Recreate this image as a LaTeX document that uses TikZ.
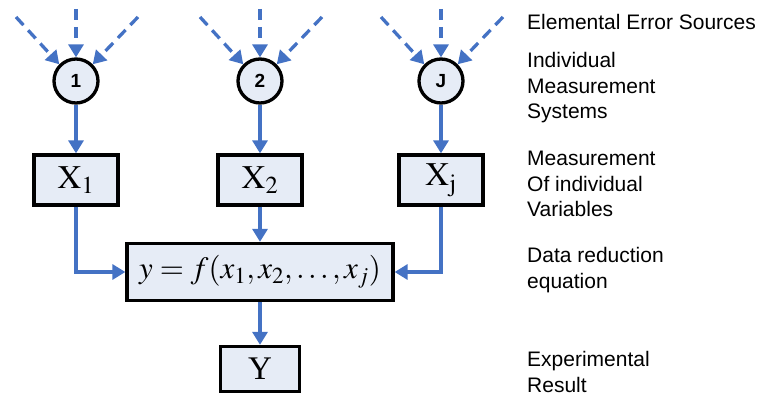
\documentclass[tikz,border=0pt]{standalone}
\usepackage{mathptmx}
\usepackage{fontspec}
\setmainfont{Liberation Serif}
\setsansfont{Liberation Sans}
\usetikzlibrary{arrows.meta}
\definecolor{ablue}{RGB}{68,114,196}
\definecolor{lfill}{RGB}{230,236,246}
\tikzset{
  x=1pt,y=-1pt,
  src/.style={circle,draw=black,line width=3.3pt,fill=lfill,minimum size=44pt,inner sep=0pt,font=\sffamily\bfseries\fontsize{19}{22}\selectfont},
  vbox/.style={draw=black,line width=3.3pt,fill=lfill,inner sep=0pt,font=\fontsize{33}{36}\selectfont},
  arr/.style={draw=ablue,line width=3.3pt,-{Triangle[length=13pt,width=15pt]}},
  darr/.style={arr,dash pattern=on 11pt off 7pt},
  lbl/.style={anchor=west,align=left,inner sep=0pt,font=\sffamily\fontsize{21}{25.5}\selectfont}
}
\begin{document}
\begin{tikzpicture}
\useasboundingbox (0,0) rectangle (760,396);
% sources
\node[src] (c1) at (76,81) {1};
\node[src] (c2) at (260,81) {2};
\node[src] (cj) at (441,81) {J};
\foreach \c/\x in {c1/76,c2/260,cj/441}{
  \coordinate (\c l) at (\x-60,17);
  \coordinate (\c m) at (\x,9);
  \coordinate (\c r) at (\x+62,17);
  \draw[darr] (\c l) -- (\c.north west);
  \draw[darr] (\c m) -- (\c.north);
  \draw[darr] (\c r) -- (\c.north east);
}
% variable boxes
\node[vbox,minimum width=84pt,minimum height=50pt] (x1) at (76,180) {$\mathrm{X}_1$};
\node[vbox,minimum width=84pt,minimum height=50pt] (x2) at (260,180) {$\mathrm{X}_2$};
\node[vbox,minimum width=84pt,minimum height=50pt] (xj) at (441,180) {$\mathrm{X}_\mathrm{j}$};
\node[vbox,minimum width=266pt,minimum height=57pt,font=\fontsize{31}{34}\selectfont] (eq) at (260,272) {$y=f(x_1,x_2,\ldots,x_j)$};
\node[vbox,minimum width=79pt,minimum height=45pt] (y) at (260,369) {Y};
% connectors
\draw[arr] (c1) -- (x1);
\draw[arr] (c2) -- (x2);
\draw[arr] (cj) -- (xj);
\draw[arr] (x2) -- (eq);
\draw[arr] (x1.south) |- (eq.west);
\draw[arr] (xj.south) |- (eq.east);
\draw[arr] (eq) -- (y);
% labels
\node[lbl] (l1) at (527,22) {Elemental Error Sources};
\node[lbl] (l2) at (527,88) {Individual\\Measurement\\Systems};
\node[lbl] (l3) at (527,184) {Measurement\\Of individual\\Variables};
\node[lbl] (l4) at (527,270) {Data reduction\\equation};
\node[lbl] (l5) at (527,372) {Experimental\\Result};
\end{tikzpicture}
\end{document}
